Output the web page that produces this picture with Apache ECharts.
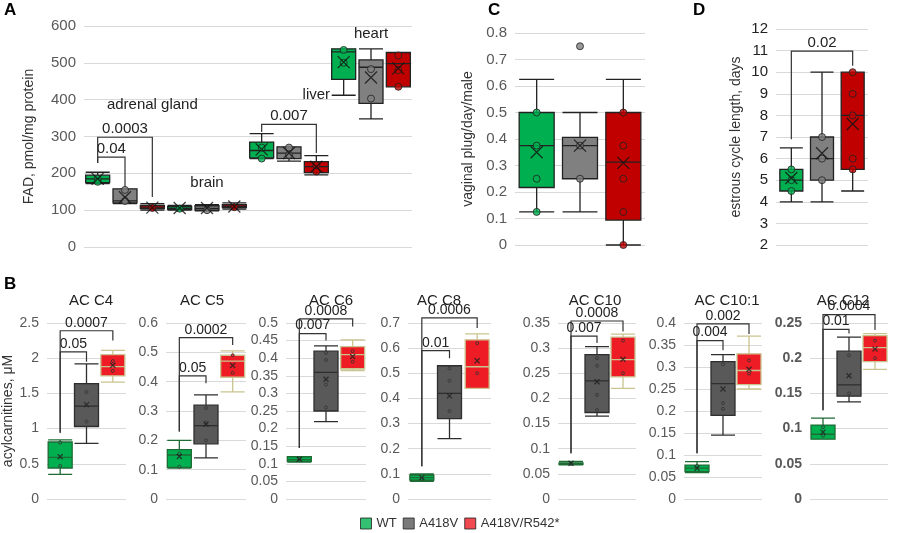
<!DOCTYPE html>
<html>
<head>
<meta charset="utf-8">
<script src="https://cdn.jsdelivr.net/npm/echarts@6/dist/echarts.min.js"></script>
<style>html,body{margin:0;padding:0;background:#fff}#main{width:900px;height:533px}</style>
</head>
<body>
<div id="main"></div>
<script>
var groups = ['WT', 'A418V', 'A418V/R542*'];

// panel A: FAD by tissue, [min, q1, median, q3, max]
var fadBoxes = [
    [172, 175, 185, 195, 203], [118, 120, 125, 158, 158], [100, 104, 108, 113, 118],
    [100, 102, 105, 110, 113], [98, 100, 105, 112, 115], [103, 107, 110, 115, 120],
    [240, 242, 262, 285, 308], [233, 240, 255, 272, 272], [196, 202, 218, 232, 248],
    [412, 455, 530, 538, 538], [348, 390, 488, 508, 538], [435, 435, 498, 528, 528]
];
var fadMeans = [185, 135, 107, 106, 106, 110, 265, 255, 218, 502, 460, 485];
var fadPoints = [[0, 185], [0, 177], [1, 155], [1, 125], [2, 106], [3, 104], [4, 100], [5, 108],
    [6, 240], [6, 270], [7, 270], [7, 250], [8, 205], [8, 222], [9, 535], [9, 500],
    [10, 483], [10, 403], [11, 520], [11, 480], [11, 435]];
var fadTissues = [[1.57, 385, 'adrenal gland'], [4.17, 174, 'brain'], [7.6, 412, 'liver'], [9.8, 578, 'heart']];
// [x1, x2, top, left end, right end, label]
var fadBrackets = [[0, 1, 244, 228, 163, '0.04'], [0, 2, 298, 228, 136, '0.0003'], [6, 8, 333, 312, 255, '0.007']];

// panel C: vaginal plug
var plugBoxes = [[0.125, 0.217, 0.375, 0.5, 0.625], [0.125, 0.25, 0.375, 0.406, 0.5], [0, 0.094, 0.3125, 0.5, 0.625]];
var plugMeans = [0.35, 0.375, 0.31];
var plugPoints = [[0, 0.5], [0, 0.375], [0, 0.25], [0, 0.125], [1, 0.75], [1, 0.375], [1, 0.25],
    [2, 0.5], [2, 0.375], [2, 0.25], [2, 0.125], [2, 0]];

// panel D: estrous cycle length
var cycleBoxes = [[4, 4.5, 5, 5.5, 6.5], [4, 5, 6, 7, 10], [4.5, 5.5, 8, 10, 10]];
var cycleMeans = [5.1, 6.25, 7.6];
var cyclePoints = [[0, 5.5], [0, 5], [0, 4.5], [1, 7], [1, 6], [1, 5], [2, 10], [2, 9], [2, 8], [2, 6], [2, 5.5]];
var cycleBrackets = [[0, 2, 10.98, 6.9, 10.3, '0.02']];

// panel B: acylcarnitines
var acTitles = ['AC C4', 'AC C5', 'AC C6', 'AC C8', 'AC C10', 'AC C10:1', 'AC C12'];
var acMax = [2.5, 0.6, 0.5, 0.7, 0.35, 0.4, 0.25];
var acStep = [0.5, 0.1, 0.05, 0.1, 0.05, 0.05, 0.05];
var acBoxes = [
    [[0.35, 0.44, 0.59, 0.81, 0.84], [0.79, 1.03, 1.32, 1.64, 1.92], [1.66, 1.75, 1.88, 2.05, 2.11]],
    [[0.105, 0.108, 0.15, 0.168, 0.2], [0.14, 0.188, 0.25, 0.32, 0.355], [0.365, 0.415, 0.47, 0.49, 0.505]],
    [[0.105, 0.107, 0.112, 0.12, 0.12], [0.22, 0.25, 0.36, 0.42, 0.435], [0.365, 0.37, 0.41, 0.433, 0.452]],
    [[0.07, 0.075, 0.085, 0.095, 0.1], [0.24, 0.32, 0.42, 0.53, 0.53], [0.44, 0.44, 0.526, 0.633, 0.657]],
    [[0.068, 0.069, 0.071, 0.072, 0.075], [0.165, 0.172, 0.235, 0.287, 0.303], [0.22, 0.243, 0.277, 0.322, 0.328]],
    [[0.06, 0.062, 0.07, 0.077, 0.085], [0.145, 0.19, 0.262, 0.312, 0.328], [0.25, 0.26, 0.292, 0.33, 0.37]],
    [[0.085, 0.085, 0.092, 0.105, 0.115], [0.138, 0.146, 0.162, 0.21, 0.23], [0.184, 0.195, 0.215, 0.232, 0.235]]
];
var acMeans = [[0.6, 1.34, 1.9], [0.145, 0.255, 0.455], [0.113, 0.34, 0.405], [0.085, 0.41, 0.55],
    [0.071, 0.233, 0.278], [0.07, 0.25, 0.295], [0.095, 0.175, 0.213]];
var acPoints = [
    [[0, 0.8], [0, 0.47], [1, 1.52], [1, 1.1], [2, 1.96], [2, 1.82]],
    [[0, 0.155], [0, 0.11], [1, 0.31], [1, 0.26], [1, 0.2], [2, 0.49], [2, 0.43]],
    [[0, 0.115], [1, 0.415], [1, 0.395], [1, 0.325], [1, 0.26], [2, 0.42], [2, 0.39]],
    [[0, 0.08], [1, 0.52], [1, 0.47], [1, 0.35], [2, 0.62], [2, 0.5]],
    [[0, 0.07], [1, 0.28], [1, 0.265], [1, 0.207], [1, 0.177], [2, 0.315], [2, 0.25]],
    [[0, 0.075], [1, 0.306], [1, 0.218], [1, 0.205], [2, 0.315], [2, 0.285]],
    [[0, 0.102], [0, 0.09], [1, 0.204], [1, 0.15], [2, 0.225], [2, 0.2]]
];
var acBrackets = [
    [[0, 1, 2.09, 0.94, 1.95, '0.05'], [0, 2, 2.39, 0.94, 2.25, '0.0007']],
    [[0, 1, 0.42, 0.23, 0.395, '0.05'], [0, 2, 0.55, 0.23, 0.525, '0.0002']],
    [[0, 1, 0.47, 0.145, 0.45, '0.007'], [0, 2, 0.512, 0.145, 0.49, '0.0008']],
    [[0, 1, 0.59, 0.13, 0.56, '0.01'], [0, 2, 0.72, 0.13, 0.68, '0.0006']],
    [[0, 1, 0.324, 0.091, 0.31, '0.007'], [0, 2, 0.354, 0.091, 0.333, '0.0008']],
    [[0, 1, 0.36, 0.104, 0.338, '0.004'], [0, 2, 0.398, 0.104, 0.375, '0.002']],
    [[0, 1, 0.241, 0.126, 0.235, '0.01'], [0, 2, 0.262, 0.126, 0.24, '0.0004']]
];

var acGrids = [[43, 83], [166, 80], [286, 80], [408, 83], [558, 78], [684, 78], [810, 78]];
var acTitleX = [86, 197, 326, 434, 590, 722, 838];

var fontFam = 'Liberation Sans, Arial, sans-serif';
var colorsA = ['#00b050', '#808080', '#c00000'];
var colorsB = ['#00b050', '#595959', '#ee1c24'];
var bordersB = ['#1e6b34', '#2e2e2e', '#c9c48f'];

var option = {
    backgroundColor: '#fff',
    animation: false,
    textStyle: {fontFamily: fontFam},
    grid: [], xAxis: [], yAxis: [], series: [],
    title: [],
    legend: {
        data: groups, left: 355, top: 512, itemWidth: 11, itemHeight: 11, itemGap: 6,
        icon: 'rect', textStyle: {fontSize: 13, color: '#333', fontFamily: fontFam},
        itemStyle: {borderColor: '#222', borderWidth: 1}
    },
    graphic: [
        {type: 'text', left: 4, top: 2, style: {text: 'A', font: 'bold 17px ' + fontFam, fill: '#000'}},
        {type: 'text', left: 4, top: 276, style: {text: 'B', font: 'bold 17px ' + fontFam, fill: '#000'}},
        {type: 'text', left: 488, top: 2, style: {text: 'C', font: 'bold 17px ' + fontFam, fill: '#000'}},
        {type: 'text', left: 693, top: 2, style: {text: 'D', font: 'bold 17px ' + fontFam, fill: '#000'}}
    ]
};

function bracketSeries(gi, data, fontSize) {
    return {
        type: 'custom', xAxisIndex: gi, yAxisIndex: gi, z: 10, silent: true,
        data: data.map(function (d) { return d.slice(0, 5); }),
        encode: {x: 0, y: 2},
        renderItem: function (params, api) {
            var x1 = api.value(0), x2 = api.value(1);
            var a = api.coord([x1, api.value(3)]);
            var b = api.coord([x1, api.value(2)]);
            var c = api.coord([x2, api.value(2)]);
            var d = api.coord([x2, api.value(4)]);
            return {
                type: 'group', children: [
                    {type: 'polyline', shape: {points: [a, b, c, d]}, style: {stroke: '#333', lineWidth: 1.2, fill: null}},
                    {type: 'text', x: (b[0] + c[0]) / 2, y: b[1] - 1,
                        style: {text: data[params.dataIndex][5], align: 'center', verticalAlign: 'bottom',
                            font: fontSize + 'px ' + fontFam, fill: '#222'}}
                ]
            };
        }
    };
}

function addPanel(gi, cfg) {
    option.grid.push({left: cfg.left, width: cfg.width, top: cfg.top, height: cfg.height});
    option.xAxis.push({
        type: 'category', gridIndex: gi, data: cfg.boxes.map(function (b, i) { return String(i); }),
        axisLabel: {show: false}, axisTick: {show: false}, axisLine: {show: false}
    });
    option.yAxis.push({
        type: 'value', gridIndex: gi, min: cfg.min, max: cfg.max, interval: cfg.step,
        axisLine: {show: false}, axisTick: {show: false},
        axisLabel: {color: cfg.labelColor || '#595959', fontSize: cfg.fontSize || 15, fontWeight: cfg.bold ? 'bold' : 'normal',
            formatter: function (v) { return String(+v.toFixed(3)); }},
        splitLine: {lineStyle: {color: '#d9d9d9'}},
        name: cfg.name || '', nameLocation: 'middle', nameGap: cfg.nameGap || 40,
        nameTextStyle: {color: '#333', fontSize: cfg.nameSize || 14}
    });
    var cols = cfg.colors, brd = cfg.borders;
    option.series.push({
        type: 'boxplot', xAxisIndex: gi, yAxisIndex: gi, boxWidth: [cfg.boxWidth, cfg.boxWidth],
        data: cfg.boxes.map(function (b, i) {
            return {value: b, itemStyle: {color: cols[i % 3], borderColor: brd[i % 3], borderWidth: 1.3}};
        })
    });
    option.series.push({
        type: 'scatter', xAxisIndex: gi, yAxisIndex: gi, symbolSize: cfg.pointSize, z: 5,
        data: cfg.points.map(function (p) {
            return {value: p, itemStyle: {color: cols[p[0] % 3], borderColor: cfg.pointBorder, borderWidth: 1}};
        })
    });
    option.series.push({
        type: 'scatter', xAxisIndex: gi, yAxisIndex: gi, symbol: 'path://M0,0L10,10M10,0L0,10',
        symbolSize: cfg.meanSize, z: 6,
        itemStyle: {color: 'none', borderColor: cfg.meanColor, borderWidth: 1.3},
        data: cfg.means.map(function (m, i) { return [i, m]; })
    });
    if (cfg.brackets) option.series.push(bracketSeries(gi, cfg.brackets, cfg.bracketFont));
}

addPanel(0, {left: 84, width: 328, top: 26, height: 221, min: 0, max: 600, step: 100,
    name: 'FAD, pmol/mg protein', nameGap: 48, boxes: fadBoxes, means: fadMeans, points: fadPoints,
    brackets: fadBrackets, bracketFont: 15, colors: colorsA, borders: ['#222', '#222', '#222'],
    boxWidth: 24, pointSize: 7, pointBorder: '#222', meanSize: 12, meanColor: '#111'});
option.series.push({
    type: 'custom', xAxisIndex: 0, yAxisIndex: 0, silent: true, encode: {x: 0, y: 1},
    data: fadTissues.map(function (t) { return [t[0], t[1]]; }),
    renderItem: function (params, api) {
        var p = api.coord([api.value(0), api.value(1)]);
        return {type: 'text', x: p[0], y: p[1],
            style: {text: fadTissues[params.dataIndex][2], align: 'center', verticalAlign: 'middle',
                font: '15px ' + fontFam, fill: '#222'}};
    }
});
addPanel(1, {left: 515, width: 130, top: 33, height: 212, min: 0, max: 0.8, step: 0.1,
    name: 'vaginal plug/day/male', nameGap: 40, boxes: plugBoxes, means: plugMeans, points: plugPoints,
    colors: colorsA, borders: ['#222', '#222', '#222'], boxWidth: 35, pointSize: 7, pointBorder: '#222',
    meanSize: 12, meanColor: '#111'});
addPanel(2, {left: 776, width: 92, top: 29, height: 216, min: 2, max: 12, step: 1,
    name: 'estrous cycle length, days', nameGap: 33, labelColor: '#222', boxes: cycleBoxes, means: cycleMeans,
    points: cyclePoints, brackets: cycleBrackets, bracketFont: 15, colors: colorsA, borders: ['#222', '#222', '#222'],
    boxWidth: 23, pointSize: 7, pointBorder: '#222', meanSize: 12, meanColor: '#111'});

for (var k = 0; k < acTitles.length; k++) {
    addPanel(3 + k, {left: acGrids[k][0], width: acGrids[k][1], top: 323, height: 176, min: 0, max: acMax[k],
        step: acStep[k], name: k === 0 ? 'acylcarnitines, μM' : '', nameGap: 32, fontSize: 14, bold: k === 6,
        boxes: acBoxes[k], means: acMeans[k], points: acPoints[k], brackets: acBrackets[k], bracketFont: 14,
        colors: colorsB, borders: bordersB, boxWidth: 24, pointSize: 3, pointBorder: '#333',
        meanSize: 5, meanColor: '#222'});
    option.title.push({text: acTitles[k], left: acTitleX[k], top: 288,
        textAlign: 'center', textStyle: {fontSize: 15, fontWeight: 'normal', color: '#222', fontFamily: fontFam}});
}

groups.forEach(function (g, i) {
    option.series.push({name: g, type: 'scatter', xAxisIndex: 3, yAxisIndex: 3, data: [],
        itemStyle: {color: colorsB[i]}});
});

var myChart = echarts.init(document.getElementById('main'));
myChart.setOption(option);
</script>
</body>
</html>
